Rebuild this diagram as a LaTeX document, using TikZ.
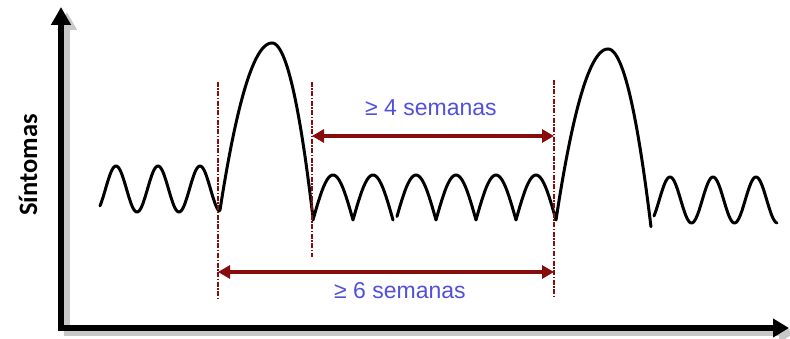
\documentclass[tikz,border=0pt]{standalone}
\usepackage{fontspec}
\setmainfont{Liberation Sans}
\newfontfamily\carlito{Carlito}
\usetikzlibrary{arrows.meta}
\definecolor{dred}{RGB}{135,12,12}
\definecolor{lblue}{RGB}{80,80,220}
\definecolor{axgray}{RGB}{200,200,200}
\tikzset{
  axisline/.style={line width=5.5pt, line join=miter,
    {Triangle[length=18pt,width=19pt]}-{Triangle[length=16pt,width=18pt]}},
  curve/.style={black, line width=3pt, line join=round, line cap=round},
  guide/.style={dred, line width=1.5pt, dash pattern=on 5pt off 1.5pt on 1.5pt off 1.5pt},
  span/.style={dred, line width=3.5pt,
    {Triangle[length=12pt,width=13pt]}-{Triangle[length=12pt,width=13pt]}},
  lbl/.style={text=lblue, font=\fontsize{23}{27}\selectfont, inner sep=0pt},
}
\begin{document}
\begin{tikzpicture}[x=1pt,y=-1pt]
\useasboundingbox (0,0) rectangle (790,339);
% axes
\coordinate (O) at (61,328);
\coordinate (ytip) at (61,7);
\coordinate (xtip) at (789,328);
\draw[axisline, draw=axgray] ([xshift=6pt,yshift=-5pt]ytip) -- ([xshift=6pt,yshift=-5pt]O) -- ([xshift=6pt,yshift=-5pt]xtip);
\draw[axisline, draw=black] (ytip) -- (O) -- (xtip);
\node[rotate=90, inner sep=0pt, font=\carlito\bfseries\fontsize{26.5}{30}\selectfont] (ylab) at (28,165) {Síntomas};
% curve
\draw[curve] plot[domain=100:219, samples=120] (\x,{189-23*cos((\x-116)/42*360)})
  -- plot[domain=1:0, samples=60] ({272-52*\x},{43+167*\x*\x})
  -- plot[domain=0:1, samples=60] ({272+41*\x},{43+175*\x*\x})
  -- plot[domain=313:393, samples=81] (\x,{220-45*abs(sin((\x-313)/40*180))});
\draw[curve] plot[domain=397:556, samples=160] (\x,{220-45*abs(sin((\x-396)/40*180))})
  -- plot[domain=1:0, samples=60] ({608-52*\x},{49+171*\x*\x})
  -- plot[domain=0:1, samples=60] ({608+43*\x},{49+178*\x*\x});
\draw[curve] plot[domain=654:777, samples=124] (\x,{200-23*cos((\x-670)/43*360)});
% guides
\coordinate (d1t) at (218,82);  \coordinate (d1b) at (218,298);
\coordinate (d2t) at (312,82);  \coordinate (d2b) at (312,257);
\coordinate (d3t) at (554,80);  \coordinate (d3b) at (554,298);
\draw[guide] (d1t) -- (d1b);
\draw[guide] (d2t) -- (d2b);
\draw[guide] (d3t) -- (d3b);
% spans
\coordinate (s4l) at (312,136); \coordinate (s4r) at (554,136);
\coordinate (s6l) at (218,272); \coordinate (s6r) at (554,272);
\draw[span] (s4l) -- (s4r);
\draw[span] (s6l) -- (s6r);
\node[lbl] (l4) at (431,108) {≥ 4 semanas};
\node[lbl] (l6) at (400,291) {≥ 6 semanas};
\end{tikzpicture}
\end{document}
